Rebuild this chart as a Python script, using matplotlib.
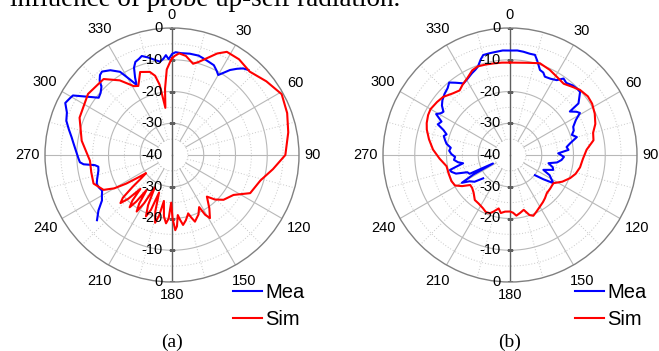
import numpy as np
import matplotlib
matplotlib.use('Agg')
import matplotlib.pyplot as plt
from matplotlib.lines import Line2D

# ---------------- data (angle in degrees, level in dB) ----------------
angle_ticks = [0, 30, 60, 90, 120, 150, 180, 210, 240, 270, 300, 330]
radial_top = [0, -10, -20, -30, -40]
radial_bottom = [0, -10, -20, -30]
series_names = ["Mea", "Sim"]
panel_labels = ["(a)", "(b)"]
caption = "influence of probe up-self radiation."

sim_a_deg = [0, 1.5, 4, 8, 13, 16, 20, 24, 28, 35, 43, 52, 61, 70, 79, 90, 98, 106,
             116, 123, 131, 136, 140, 145, 149, 151, 152.5, 156, 161, 163, 164.5, 168,
             171, 173, 174.5, 176, 177.5, 179.5, 181, 183, 185, 187.5, 190, 192, 194,
             196.5, 199, 201, 203, 205.5, 208, 210, 212, 214, 216, 217.5, 219, 221,
             223, 225, 227, 229, 231, 233, 235, 236.5, 238, 240, 243, 250,
             258, 266, 279, 292, 306, 318, 325, 331, 334, 339, 345, 348, 350, 352,
             354, 356.5, 359, 360]
sim_a_db = [-9.6, -8.8, -7.9, -8.5, -10.5, -9.5, -7.5, -5.0, -3.2, -3.2, -4.1, -2.3,
            -0.5, -1.4, -2.7, -4.3, -7.9, -11.0, -12.6, -16.9, -18.5, -20.5, -22.9,
            -19.5, -16.8, -18.5, -21.5, -19.5, -17.8, -19.5, -20.9, -19.0, -17.7,
            -19.5, -21.0, -17.5, -16.3, -20.0, -25.0, -20.0, -18.4, -20.5, -25.3,
            -20.5, -18.0, -21.5, -27.5, -21.5, -19.0, -22.5, -28.5, -22.5, -19.0,
            -21.5, -26.4, -21.5, -18.8, -21.0, -25.4, -20.5, -17.8, -19.5, -24.0,
            -28.0, -30.0, -27.0, -23.0, -19.0, -15.8, -13.7, -14.0, -14.1, -11.2,
            -8.6, -7.3, -7.8, -11.3, -15.2, -15.8, -12.0, -12.9, -14.5, -17.5, -25.0,
            -19.0, -13.0, -10.5, -9.6]

mea_a_deg = [229, 233, 237, 240, 243, 246, 249, 252, 255, 258, 261, 262.5, 264,
             265.5, 268, 271, 274, 277, 280, 284, 288, 292, 296, 299, 301, 303, 306,
             308, 311, 314, 316, 318, 320, 324, 328, 331, 333.2, 334.5, 336.5, 338.5,
             341, 343, 346, 349, 352.7, 355, 356.5, 358, 0, 2, 5, 10, 15, 18, 22, 25,
             28, 30, 32, 34.3, 37, 39.4, 42]
mea_a_db = [-8.7, -11.0, -13.7, -14.5, -15.3, -14.8, -14.6, -15.2, -15.8, -16.3,
            -16.5, -15.5, -12.0, -10.9, -10.5, -10.0, -9.4, -8.7, -7.9, -6.5, -5.0,
            -4.3, -2.6, -3.2, -3.6, -6.0, -9.0, -10.7, -10.2, -9.1, -7.2, -6.1, -5.7,
            -7.0, -9.1, -12.9, -15.3, -13.0, -10.0, -8.5, -8.0, -7.4, -8.3, -9.3,
            -10.4, -9.5, -8.5, -9.8, -8.2, -7.6, -7.8, -7.6, -7.6, -8.0, -8.5, -8.8,
            -10.0, -10.9, -9.5, -7.6, -6.0, -4.7, -4.0]

sim_b_deg = [0, 10, 18, 25, 31, 37, 42, 47, 53, 58, 64, 70, 75, 80, 86, 93, 100, 106,
             111, 117, 123, 130, 136, 141, 145, 150, 155, 159, 162, 166, 170, 174, 177,
             180, 185, 189, 192, 196, 199, 203, 207, 213, 218, 224, 229, 233, 237, 241,
             246, 253, 260, 267, 274, 281, 287, 291, 296, 300, 306, 311, 317, 322, 326,
             331, 336, 340, 345, 350, 355, 360]
sim_b_db = [-10.9, -10.5, -9.6, -10.4, -11.3, -11.9, -11.0, -9.9, -9.3, -9.5, -10.3,
            -11.4, -12.9, -13.3, -15.8, -17.0, -17.6, -18.5, -19.7, -21.5, -23.7,
            -23.5, -23.3, -22.5, -21.9, -21.2, -20.3, -19.5, -20.1, -22.2, -21.5,
            -20.8, -21.8, -22.2, -22.1, -21.5, -22.8, -21.5, -20.6, -20.5, -21.2,
            -21.8, -22.0, -23.5, -24.2, -24.3, -22.0, -20.2, -19.8, -19.8, -19.7,
            -17.8, -15.7, -14.0, -12.6, -11.9, -11.3, -11.1, -11.6, -12.1, -13.5,
            -14.2, -13.3, -12.3, -10.8, -10.3, -10.5, -10.7, -10.8, -10.9]

mea_b_deg = [229, 233, 237, 240, 242, 243.5, 245, 248, 251, 254, 256, 258, 260, 262,
             265, 268, 271, 274, 277, 280, 283, 286, 288, 290.6, 293, 296, 299, 301,
             303, 306, 309, 313, 317, 320, 323, 327, 331, 335, 338, 340, 343, 345, 349,
             352.6, 356, 0, 4, 7.4, 11, 14, 16, 19.4, 22, 24, 28, 32, 35, 38, 42, 45,
             48, 51, 53, 54, 57, 59, 62, 66, 69, 72, 75, 79, 82, 85, 88, 92, 95.5, 99,
             102, 106, 109, 112, 114, 117, 120, 123, 126, 129]
mea_b_db = [-28.8, -26.0, -24.8, -22.5, -27.0, -34.0, -26.0, -25.5, -22.0, -20.8,
            -20.5, -23.0, -25.0, -23.5, -22.3, -22.7, -21.5, -20.8, -21.2, -19.7,
            -19.0, -18.3, -19.0, -17.6, -15.3, -16.0, -13.4, -14.5, -15.0, -13.5,
            -12.6, -11.8, -11.2, -10.2, -11.5, -13.1, -12.5, -11.6, -11.0, -10.4,
            -8.5, -7.4, -7.3, -7.2, -7.0, -7.1, -7.0, -7.2, -7.5, -7.5, -9.0, -11.6,
            -12.0, -13.0, -12.8, -12.2, -10.6, -11.2, -10.5, -10.3, -10.3, -12.0,
            -13.0, -16.7, -15.0, -14.3, -16.5, -18.2, -18.5, -19.5, -18.2, -20.7,
            -22.0, -21.5, -24.8, -23.0, -23.7, -25.0, -27.6, -26.0, -25.6, -27.5,
            -28.5, -26.0, -25.0, -23.7, -27.0, -29.9]

# ---------------- styling ----------------
plt.rcParams['font.family'] = ['Liberation Sans', 'DejaVu Sans']
W, H = 659, 351
fig = plt.figure(figsize=(W / 100, H / 100), dpi=100)

BLUE = '#0000ff'
RED = '#ff0000'
R = 127  # polar radius in pixels
LAB_PX = 10.5 * 100 / 72  # label font size in pixels


def make_panel(cx, sim_deg, sim_db, mea_deg, mea_db, letter, leg_x):
    ax = fig.add_axes([(cx - R) / W, (H - 155 - R) / H, 2 * R / W, 2 * R / H],
                      projection='polar')
    ax.set_theta_zero_location('N')
    ax.set_theta_direction(-1)
    ax.set_ylim(-40, 0)
    ax.grid(False)
    ax.set_yticks([])
    ax.set_xticks(np.deg2rad(angle_ticks))
    ax.set_xticklabels([''] * len(angle_ticks))
    ax.tick_params(axis='x', length=0)
    ax.spines['polar'].set_color('#808080')
    ax.spines['polar'].set_linewidth(1.0)

    # angle labels centred just outside the ring
    for a in angle_ticks:
        t = np.deg2rad(a)
        s = str(a)
        half_w = 0.278 * LAB_PX * len(s)
        r_px = R + 5 + 3 * abs(np.cos(t)) + half_w * abs(np.sin(t)) + 5 * abs(np.cos(t))
        ax.text(t, -40 + r_px * 40 / R, s, ha='center', va='center',
                fontsize=10.5, clip_on=False)

    th = np.linspace(0, 2 * np.pi, 721)
    for r in [-35, -30, -25, -20, -15, -10, -5]:
        if r % 10 == 0:
            ax.plot(th, np.full_like(th, r), color='#b8b8b8', lw=0.8, zorder=1)
        else:
            ax.plot(th, np.full_like(th, r), color='#c8c8c8', lw=0.7, ls=(0, (1, 2)), zorder=1)
    for a in range(0, 360, 15):
        if a % 180 == 0:
            continue
        t = np.deg2rad(a)
        if a % 30 == 0:
            ax.plot([t, t], [-35, 0], color='#b8b8b8', lw=0.8, zorder=1)
        else:
            ax.plot([t, t], [-35, 0], color='#c8c8c8', lw=0.7, ls=(0, (1, 2)), zorder=1)

    # vertical radial axis with ticks
    ax.plot([0, 0], [-40, 0], color='#606060', lw=1.0, zorder=2)
    ax.plot([np.pi, np.pi], [-40, 0], color='#606060', lw=1.0, zorder=2)
    ax.plot([0] * 4, [-30, -20, -10, 0], ls='none', marker='_', ms=5,
            mec='#606060', mew=1.0, zorder=2)
    ax.plot([np.pi] * 4, [-30, -20, -10, 0], ls='none', marker='_', ms=5,
            mec='#606060', mew=1.0, zorder=2)
    for v in radial_top:
        ax.annotate(str(v), xy=(0, v), xytext=(-6.5, 0), textcoords='offset points',
                    ha='right', va='center', fontsize=10.5, zorder=5)
    for v in radial_bottom:
        ax.annotate(str(v), xy=(np.pi, v), xytext=(-6.5, 0), textcoords='offset points',
                    ha='right', va='center', fontsize=10.5, zorder=5)

    ax.plot(np.unwrap(np.deg2rad(mea_deg)), mea_db, color=BLUE, lw=1.5, zorder=3)
    ax.plot(np.unwrap(np.deg2rad(sim_deg)), sim_db, color=RED, lw=1.5, zorder=4)

    handles = [Line2D([], [], color=BLUE, lw=1.5), Line2D([], [], color=RED, lw=1.5)]
    ax.legend(handles, series_names, loc='upper left',
              bbox_to_anchor=(leg_x / W, 1 - 283 / H), bbox_transform=fig.transFigure,
              frameon=False, fontsize=14.5, handlelength=1.45, handletextpad=0.15,
              labelspacing=0.38, borderpad=0, borderaxespad=0)
    fig.text(cx / W, 1 - 342 / H, letter, ha='center', va='center',
             family='Liberation Serif', fontsize=14)
    return ax


make_panel(172, sim_a_deg, sim_a_db, mea_a_deg, mea_a_db, panel_labels[0], 233)
make_panel(510, sim_b_deg, sim_b_db, mea_b_deg, mea_b_db, panel_labels[1], 575)

fig.text(10 / W, 1 - 6 / H, caption, ha='left', va='baseline',
         family='Liberation Serif', fontsize=19.5)

fig.savefig('out.png', dpi=100)
